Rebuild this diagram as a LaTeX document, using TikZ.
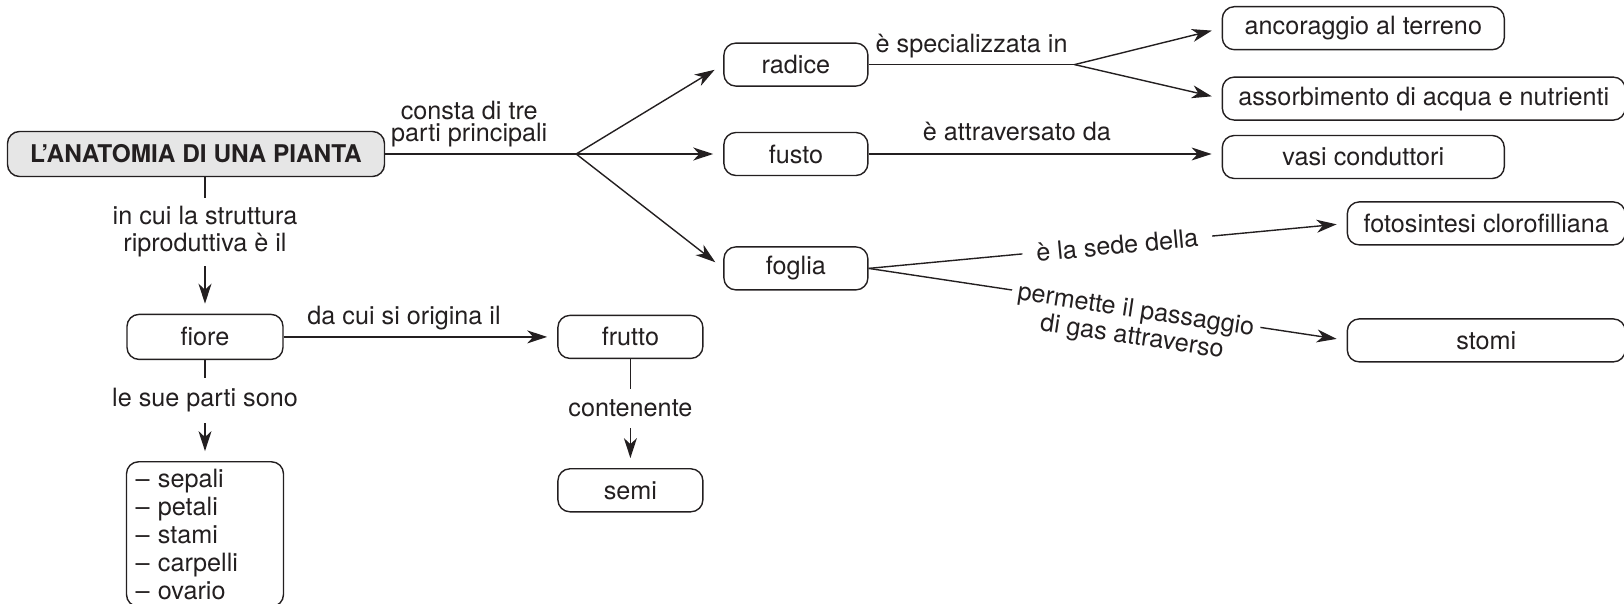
\documentclass[tikz,border=0pt]{standalone}
\usepackage{fontspec}
\setmainfont{TeX Gyre Heros}
\usepackage{tikz}
\usetikzlibrary{positioning,arrows.meta,calc}
\definecolor{inkGray}{RGB}{35,31,32}
\definecolor{titleFill}{RGB}{230,230,230}
\newcommand{\mapFont}{\fontsize{12.6}{13.5}\selectfont}
\newcommand{\listFont}{\fontsize{12.6}{14}\selectfont}
\newcommand{\titleFont}{\fontsize{12.2}{14}\selectfont\bfseries}
\tikzset{
  conceptBox/.style={
    rectangle,
    rounded corners=6pt,
    draw=inkGray,
    text=inkGray,
    line width=0.7pt,
    minimum width=72pt,
    minimum height=21.5pt,
    inner sep=3pt,
    align=center,
    font=\mapFont
  },
  titleBox/.style={
    conceptBox,
    fill=titleFill,
    minimum width=188.5pt,
    minimum height=22.5pt,
    font=\titleFont
  },
  listBox/.style={
    conceptBox,
    text width=69.5pt,
    inner xsep=4.5pt,
    inner ysep=3.5pt,
    align=left,
    font=\listFont
  },
  arrowLine/.style={
    -{Stealth[length=10pt,width=6.5pt,inset=3pt]},
    line width=0.7pt,
    draw=inkGray,
    shorten >=5pt
  },
  plainLine/.style={
    line width=0.7pt,
    draw=inkGray
  },
  linkText/.style={
    font=\mapFont,
    text=inkGray,
    align=center,
    inner sep=3pt
  },
  cutText/.style={
    linkText,
    fill=white
  }
}

\begin{document}
\begin{tikzpicture}[x=1pt,y=-1pt]
    \useasboundingbox (0,0) rectangle (812,302);

    % the plant and its three parts
    \node[titleBox] (title) at (98,77) {L’ANATOMIA DI UNA PIANTA};
    \coordinate[right=95.5pt of title] (split);
    \node[conceptBox, right=73.5pt of split] (fusto) {fusto};
    \node[conceptBox, above=22.5pt of fusto] (radice) {radice};
    \node[conceptBox, below=35pt of fusto] (foglia) {foglia};

    % what each part does
    \coordinate[right=103pt of radice] (radiceSplit);
    \node[conceptBox, right=176.5pt of fusto, yshift=-1.5pt, minimum width=141pt] (vasi) {vasi conduttori};
    \node[conceptBox, above right=7pt and 0pt of vasi.north west, minimum width=201.5pt] (assorb) {assorbimento di acqua e nutrienti};
    \node[conceptBox, above right=13pt and 0pt of assorb.north west, minimum width=141pt] (ancora) {ancoraggio al terreno};
    \node[conceptBox, right=239pt of foglia, yshift=22.5pt, minimum width=139pt] (fotosintesi) {fotosintesi clorofilliana};
    \node[conceptBox, right=239pt of foglia, yshift=-36pt, minimum width=139pt] (stomi) {stomi};

    % flower, fruit, seeds
    \node[conceptBox, below=68.25pt of title, xshift=4.5pt, minimum width=78pt, minimum height=22.5pt] (fiore) {fiore};
    \node[conceptBox, right=136.75pt of fiore, minimum width=72.5pt] (frutto) {frutto};
    \node[conceptBox, below=54.5pt of frutto, minimum width=72.5pt] (semi) {semi};
    \node[listBox, below=50.5pt of fiore] (parti) {– sepali\\– petali\\– stami\\– carpelli\\– ovario};

    \draw[plainLine] (title) -- node[linkText, above, pos=0.44]{consta di tre\\[-2.5pt]parti principali} (split);
    \draw[arrowLine] (split) -- (radice.west);
    \draw[arrowLine] (split) -- (fusto);
    \draw[arrowLine] (split) -- (foglia.west);

    \draw[plainLine] (radice) -- node[linkText, above]{è specializzata in} (radiceSplit);
    \draw[arrowLine] (radiceSplit) -- (ancora.west);
    \draw[arrowLine] (radiceSplit) -- (assorb.west);
    \draw[arrowLine] (fusto) -- node[linkText, above=3pt, pos=0.42]{è attraversato da} (fusto -| vasi.west);
    \draw[arrowLine] (foglia.east) -- node[cutText, sloped, pos=0.52, inner xsep=7pt]{è la sede della} (fotosintesi.west);
    \draw[arrowLine] (foglia.east) -- node[cutText, sloped, pos=0.56, yshift=-8pt]{permette il passaggio\\di gas attraverso} (stomi.west);

    \draw[arrowLine] (title.south -| fiore.north) -- node[cutText, pos=0.4, inner ysep=4.2pt]{in cui la struttura\\riproduttiva è il} (fiore);
    \draw[arrowLine] (fiore) -- node[cutText, pos=0.4, inner ysep=5.5pt]{le sue parti sono} (parti);
    \draw[arrowLine] (fiore) -- node[linkText, above, pos=0.44]{da cui si origina il} (frutto);
    \draw[arrowLine] (frutto) -- node[cutText, pos=0.45, inner ysep=5.5pt]{contenente} (semi);
\end{tikzpicture}
\end{document}
